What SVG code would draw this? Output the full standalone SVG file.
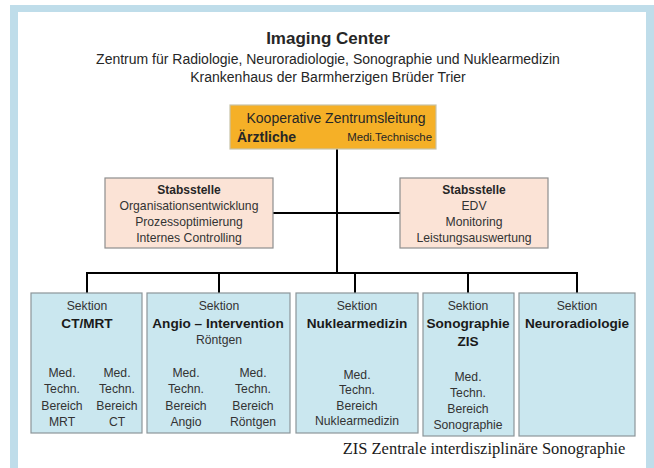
<svg xmlns="http://www.w3.org/2000/svg" width="654" height="468" viewBox="0 0 654 468">
<style>
  text { font-family: "Liberation Sans", Arial, sans-serif; fill: #262626; text-anchor: middle; }
  .b { font-weight: bold; }
  .sek { font-size: 12.2px; fill: #333; }
  .ttl { font-size: 13.6px; font-weight: bold; fill: #1a1a1a; }
  .sm { font-size: 12.2px; fill: #333; }
  .blue { fill: #CAE7EF; stroke: #8C9699; stroke-width: 1.2; }
  .peach { fill: #FBE3D6; stroke: #8E8E8E; stroke-width: 1.2; }
  .conn { stroke: #000; stroke-width: 2; fill: none; }
</style>
<rect x="0" y="0" width="654" height="468" fill="#ffffff"/>
<rect x="10" y="5" width="644" height="470" fill="#BFDDEA"/>
<rect x="18" y="12" width="628" height="470" fill="#ffffff"/>

<g id="header">
  <text x="328" y="44" class="b" style="font-size:17px">Imaging Center</text>
  <text x="328" y="64" style="font-size:14px">Zentrum für Radiologie, Neuroradiologie, Sonographie und Nuklearmedizin</text>
  <text x="328" y="82" style="font-size:14px">Krankenhaus der Barmherzigen Brüder Trier</text>
</g>

<g id="connectors">
  <line class="conn" x1="337" y1="149" x2="337" y2="274"/>
  <line class="conn" x1="273" y1="213" x2="400" y2="213"/>
  <line class="conn" x1="86" y1="273" x2="578" y2="273"/>
  <line class="conn" x1="87" y1="272" x2="87" y2="293"/>
  <line class="conn" x1="219" y1="272" x2="219" y2="293"/>
  <line class="conn" x1="355" y1="272" x2="355" y2="293"/>
  <line class="conn" x1="468" y1="272" x2="468" y2="293"/>
  <line class="conn" x1="577" y1="272" x2="577" y2="293"/>
</g>

<g id="leitung">
  <rect x="230" y="105" width="206" height="44" fill="#F5B027" stroke="#C8C3A8" stroke-width="1.2"/>
  <text x="336" y="123" style="font-size:14px">Kooperative Zentrumsleitung</text>
  <text x="237" y="142" class="b" style="font-size:14px;text-anchor:start">Ärztliche</text>
  <text x="432" y="141" style="font-size:11.4px;text-anchor:end">Medi.Technische</text>
</g>

<g id="stab-left">
  <rect class="peach" x="105" y="178" width="168" height="70"/>
  <text x="189" y="194" class="b" style="font-size:12px">Stabsstelle</text>
  <text x="189" y="210" class="sm">Organisationsentwicklung</text>
  <text x="189" y="226" class="sm">Prozessoptimierung</text>
  <text x="189" y="242" class="sm">Internes Controlling</text>
</g>

<g id="stab-right">
  <rect class="peach" x="400" y="178" width="148" height="70"/>
  <text x="474" y="194" class="b" style="font-size:12px">Stabsstelle</text>
  <text x="474" y="210" class="sm">EDV</text>
  <text x="474" y="226" class="sm">Monitoring</text>
  <text x="474" y="242" class="sm">Leistungsauswertung</text>
</g>

<g id="sek-ctmrt">
  <rect class="blue" x="31" y="293" width="111" height="140"/>
  <text x="87" y="310" class="sek">Sektion</text>
  <text x="87" y="328" class="ttl">CT/MRT</text>
  <text x="62" y="377" class="sm">Med.</text>
  <text x="62" y="393" class="sm">Techn.</text>
  <text x="62" y="410" class="sm">Bereich</text>
  <text x="62" y="426" class="sm">MRT</text>
  <text x="117" y="377" class="sm">Med.</text>
  <text x="117" y="393" class="sm">Techn.</text>
  <text x="117" y="410" class="sm">Bereich</text>
  <text x="117" y="426" class="sm">CT</text>
</g>

<g id="sek-angio">
  <rect class="blue" x="147" y="293" width="143" height="140"/>
  <text x="219" y="310" class="sek">Sektion</text>
  <text x="218" y="328" class="ttl">Angio – Intervention</text>
  <text x="219" y="344" class="sm">Röntgen</text>
  <text x="186" y="377" class="sm">Med.</text>
  <text x="186" y="393" class="sm">Techn.</text>
  <text x="186" y="410" class="sm">Bereich</text>
  <text x="186" y="426" class="sm">Angio</text>
  <text x="253" y="377" class="sm">Med.</text>
  <text x="253" y="393" class="sm">Techn.</text>
  <text x="253" y="410" class="sm">Bereich</text>
  <text x="253" y="426" class="sm">Röntgen</text>
</g>

<g id="sek-nuklear">
  <rect class="blue" x="296" y="293" width="122" height="140"/>
  <text x="357" y="310" class="sek">Sektion</text>
  <text x="357" y="328" class="ttl">Nuklearmedizin</text>
  <text x="357" y="379" class="sm">Med.</text>
  <text x="357" y="394" class="sm">Techn.</text>
  <text x="357" y="410" class="sm">Bereich</text>
  <text x="357" y="425" class="sm">Nuklearmedizin</text>
</g>

<g id="sek-sono">
  <rect class="blue" x="423" y="293" width="91" height="143"/>
  <text x="468" y="310" class="sek">Sektion</text>
  <text x="468" y="328" class="ttl">Sonographie</text>
  <text x="468" y="346" class="ttl">ZIS</text>
  <text x="468" y="381" class="sm">Med.</text>
  <text x="468" y="397" class="sm">Techn.</text>
  <text x="468" y="413" class="sm">Bereich</text>
  <text x="468" y="429" class="sm">Sonographie</text>
</g>

<g id="sek-neuro">
  <rect class="blue" x="519" y="293" width="116" height="143"/>
  <text x="577" y="310" class="sek">Sektion</text>
  <text x="577" y="328" class="ttl">Neuroradiologie</text>
</g>

<g id="footer">
  <text x="484" y="454" style="font-family:'Liberation Serif','Times New Roman',serif;font-size:16.5px;fill:#1a1a1a">ZIS Zentrale interdisziplinäre Sonographie</text>
</g>
</svg>
